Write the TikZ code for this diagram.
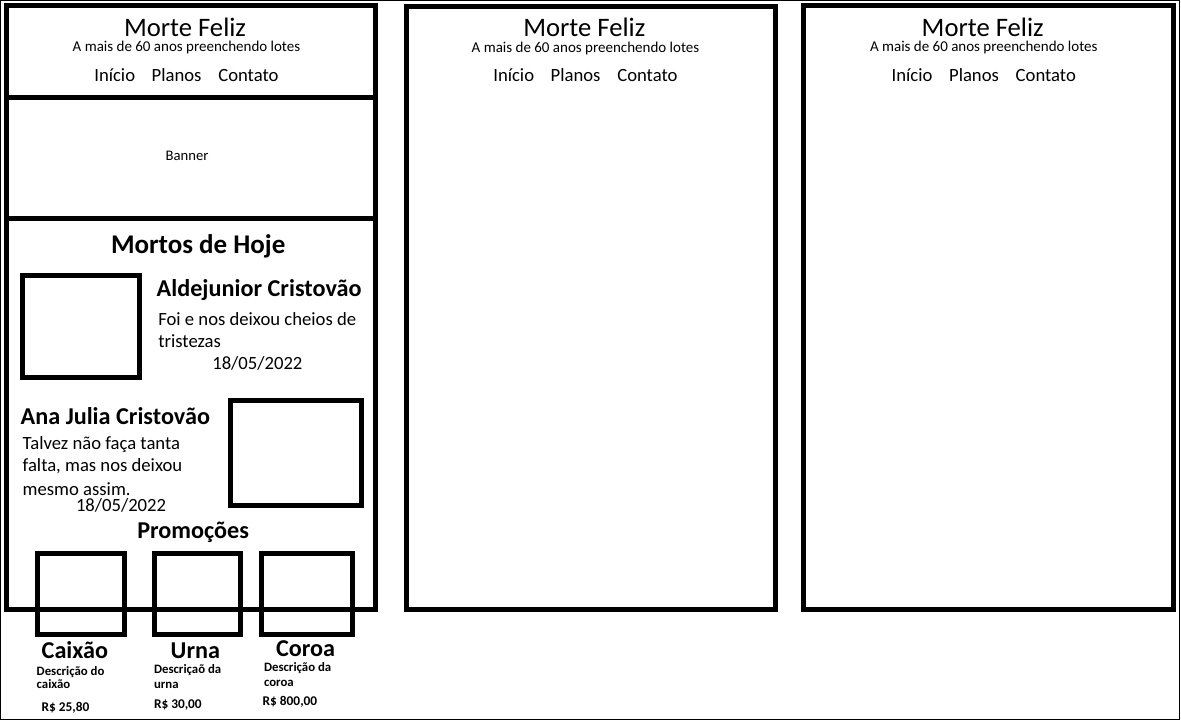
\documentclass[tikz,border=0pt]{standalone}
\usepackage{fontspec}
\setmainfont{Carlito}
\begin{document}
\begin{tikzpicture}[x=1pt,y=-1pt,
  thick frame/.style={draw=black,line width=5pt},
  thin frame/.style={draw=black,line width=1pt},
  txt/.style={inner sep=0pt,outer sep=0pt,anchor=base west,text=black},
  titletxt/.style={txt,font=\fontsize{26.67}{30}\selectfont},
  subtxt/.style={txt,font=\fontsize{15}{17}\selectfont},
  navtxt/.style={txt,font=\fontsize{18.67}{22}\selectfont},
  bannertxt/.style={txt,font=\fontsize{14.67}{17}\selectfont},
  headtxt/.style={txt,font=\bfseries\fontsize{27}{30}\selectfont},
  nametxt/.style={txt,font=\bfseries\fontsize{24.2}{28}\selectfont},
  bodytxt/.style={txt,font=\fontsize{18.67}{22}\selectfont},
  desctxt/.style={txt,font=\bfseries\fontsize{12.8}{16}\selectfont},
  pricetxt/.style={txt,font=\bfseries\fontsize{13.33}{16}\selectfont}
]
\useasboundingbox (0,0) rectangle (1181,721);
% outer thin border
\draw[thin frame] (0.5,0.5) rectangle (1179.5,719.5);

% ---------- frame 1 ----------
\draw[thick frame] (6.5,5.5) rectangle (375.5,609);
\draw[thick frame] (6.5,97.5) -- (375.5,97.5);
\draw[thick frame] (6.5,218) -- (375.5,218);
\node[titletxt] (t1) at (124,36.7) {Morte Feliz};
\node[subtxt] (s1) at (72.7,51.7) {A mais de 60 anos preenchendo lotes};
\node[navtxt] (n1a) at (94.3,81) {Início};
\node[navtxt] (n1b) at (151.7,81) {Planos};
\node[navtxt] (n1c) at (218.3,81) {Contato};
\node[bannertxt] (b1) at (165.7,160) {Banner};
\node[headtxt] (m1) at (111,253.3) {Mortos de Hoje};

\draw[thick frame] (22.5,275) rectangle (139,377.5);
\node[nametxt] (a1) at (156.7,296.7) {Aldejunior Cristovão};
\node[bodytxt] (a1l1) at (158.3,325) {Foi e nos deixou cheios de};
\node[bodytxt] (a1l2) at (158.3,347.3) {tristezas};
\node[bodytxt] (a1d) at (212.3,369.3) {18/05/2022};

\draw[thick frame] (230.8,400) rectangle (361,505);
\node[nametxt] (a2) at (20.7,424) {Ana Julia Cristovão};
\node[bodytxt] (a2l1) at (22.7,449.3) {Talvez não faça tanta};
\node[bodytxt] (a2l2) at (22.7,471.7) {falta, mas nos deixou};
\node[bodytxt] (a2l3) at (22.7,495) {mesmo assim.};
\node[bodytxt] (a2d) at (76,511) {18/05/2022};

\node[nametxt] (p1) at (137.3,538.3) {Promoções};
\draw[thick frame] (37.5,553.5) rectangle (124,634);
\draw[thick frame] (154,553.5) rectangle (240,634);
\draw[thick frame] (261,553.5) rectangle (352,634);

\node[nametxt] (c1) at (41.7,658.3) {Caixão};
\node[desctxt] (c1d1) at (36.7,675) {Descrição do};
\node[desctxt] (c1d2) at (36.7,688.3) {caixão};
\node[pricetxt] (c1p) at (41.7,711.7) {R\$ 25,80};

\node[nametxt] (u1) at (170.7,658) {Urna};
\node[desctxt] (u1d1) at (154,673.3) {Descriçaõ da};
\node[desctxt] (u1d2) at (154,688) {urna};
\node[pricetxt] (u1p) at (154,708.3) {R\$ 30,00};

\node[nametxt] (k1) at (276,656.7) {Coroa};
\node[desctxt] (k1d1) at (264,671.7) {Descrição da};
\node[desctxt] (k1d2) at (264,686) {coroa};
\node[pricetxt] (k1p) at (262.7,705) {R\$ 800,00};

% ---------- frame 2 ----------
\draw[thick frame] (406,6.5) rectangle (775,609);
\node[titletxt] (t2) at (523.3,36.7) {Morte Feliz};
\node[subtxt] (s2) at (471.7,52.3) {A mais de 60 anos preenchendo lotes};
\node[navtxt] (n2a) at (493.3,81.7) {Início};
\node[navtxt] (n2b) at (550.7,81.7) {Planos};
\node[navtxt] (n2c) at (617.3,81.7) {Contato};

% ---------- frame 3 ----------
\draw[thick frame] (803.5,5) rectangle (1173.5,609);
\node[titletxt] (t3) at (921.7,36) {Morte Feliz};
\node[subtxt] (s3) at (870,51.7) {A mais de 60 anos preenchendo lotes};
\node[navtxt] (n3a) at (891.7,81) {Início};
\node[navtxt] (n3b) at (949.1,81) {Planos};
\node[navtxt] (n3c) at (1015.7,81) {Contato};
\end{tikzpicture}
\end{document}
